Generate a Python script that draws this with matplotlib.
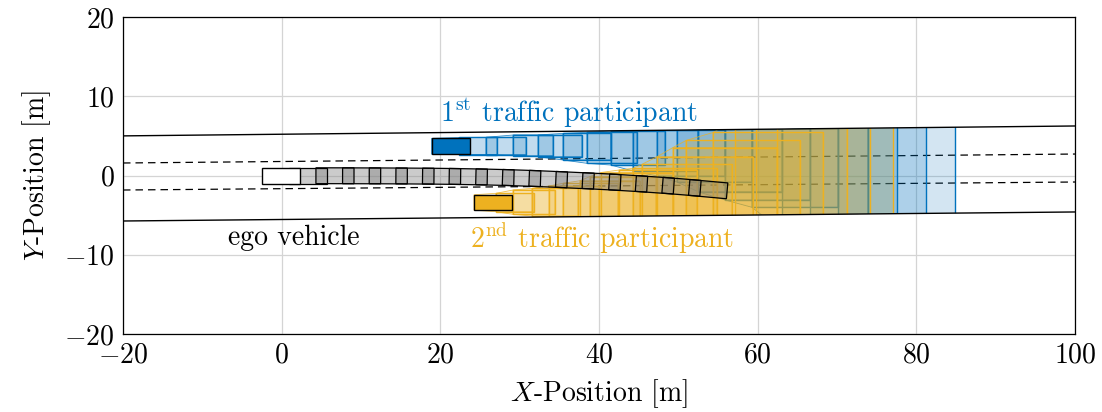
import numpy as np
import matplotlib
matplotlib.use("Agg")
import matplotlib.pyplot as plt
from matplotlib.patches import Polygon

plt.rcParams.update({
    "font.family": "serif",
    "font.serif": ["cmr10"],
    "mathtext.fontset": "cm",
    "axes.formatter.use_mathtext": True,
    "axes.unicode_minus": True,
    "font.size": 20,
})

BLUE = "#0072BD"
YELLOW = "#EDB120"

# ---------------- road geometry (lateral offsets at both ends) ----------------
road_x = [-20, 100]
road_edge_top = [5.0, 6.25]
lane_line_upper = [1.58, 2.71]
lane_line_lower = [-1.83, -0.82]
road_edge_bottom = [-5.74, -4.6]

# ---------------- vehicles ----------------
veh_len = 4.8
veh_wid = 2.0

# ego vehicle: current pose and predicted centre points
ego_x0, ego_y0 = -0.1, -0.03
ego_pred_x = [3.36, 6.72, 10.08, 13.44, 16.8, 20.16, 23.52, 26.88, 30.24,
              33.6, 36.96, 40.32, 43.68, 47.04, 50.4, 53.76]
ego_pred_y = [-0.03, -0.03, -0.04, -0.05, -0.07, -0.10, -0.15, -0.22, -0.32,
              -0.45, -0.60, -0.76, -0.95, -1.17, -1.42, -1.72]

# 1st traffic participant: current box and predicted occupancy boxes
tp1_now = (18.9, 23.73, 2.68, 4.69)  # x_min, x_max, y_min, y_max
tp1_xmin = [22.35, 25.75, 29.16, 32.31, 35.46, 38.48, 41.51, 44.28, 47.31,
            49.83, 52.48, 55.88, 59.28, 63.06, 66.59, 70.12, 73.90]
tp1_xmax = [27.14, 30.80, 34.20, 37.85, 41.51, 44.79, 48.32, 52.48, 55.88,
            59.28, 63.06, 66.59, 70.12, 73.90, 77.56, 81.21, 84.87]
tp1_ymin = [2.65, 2.65, 2.50, 2.37, 1.96, 1.54, 1.32, 0.57, -0.06,
            -0.82, -2.04, -3.09, -4.01, -7.0, -7.0, -7.0, -7.0]
tp1_ymax = [4.80, 4.82, 5.11, 5.11, 5.32, 5.45, 5.62, 5.74, 5.80,
            5.87, 5.93, 6.0, 6.0, 7.0, 7.0, 7.0, 7.0]

# 2nd traffic participant
tp2_now = (24.24, 29.07, -4.37, -2.43)
tp2_xmin = [27.01, 29.16, 31.55, 33.70, 35.46, 37.60, 38.86, 40.25, 42.52,
            44.28, 45.41, 47.31, 49.33, 50.97, 54.37, 57.14, 59.79, 62.43]
tp2_xmax = [31.80, 34.45, 37.35, 40.00, 42.39, 45.16, 47.18, 49.33, 52.35,
            54.87, 56.76, 59.40, 62.43, 65.34, 68.25, 71.27, 74.17, 77.07]
tp2_ymin = [-4.57, -4.90, -5.11, -7.0, -7.0, -7.0, -7.0, -7.0, -7.0,
            -7.0, -7.0, -7.0, -7.0, -7.0, -7.0, -7.0, -7.0, -7.0]
tp2_ymax = [-2.25, -1.83, -1.62, -1.32, -0.98, -0.66, -0.13, 0.38, 0.69,
            0.91, 1.41, 2.37, 3.53, 4.42, 5.43, 7.0, 7.0, 7.0]


def box_corners(x0, x1, y0, y1):
    return np.array([[x0, y0], [x1, y0], [x1, y1], [x0, y1]])


def oriented_box(cx, cy, yaw, length, width):
    c, s = np.cos(yaw), np.sin(yaw)
    local = np.array([[-length / 2, -width / 2], [length / 2, -width / 2],
                      [length / 2, width / 2], [-length / 2, width / 2]])
    rot = np.array([[c, -s], [s, c]])
    return local @ rot.T + np.array([cx, cy])


def convex_hull(points):
    pts = sorted(map(tuple, points))

    def cross(o, a, b):
        return (a[0] - o[0]) * (b[1] - o[1]) - (a[1] - o[1]) * (b[0] - o[0])

    lower, upper = [], []
    for p in pts:
        while len(lower) >= 2 and cross(lower[-2], lower[-1], p) <= 0:
            lower.pop()
        lower.append(p)
    for p in reversed(pts):
        while len(upper) >= 2 and cross(upper[-2], upper[-1], p) <= 0:
            upper.pop()
        upper.append(p)
    return np.array(lower[:-1] + upper[:-1])


fig = plt.figure(figsize=(11.02, 4.12), dpi=100)
ax = fig.add_axes([0.1116, 0.1893, 0.8639, 0.7694])
ax.set_xlim(-20, 100)
ax.set_ylim(-20, 20)
ax.set_xticks([-20, 0, 20, 40, 60, 80, 100])
ax.set_yticks([-20, -10, 0, 10, 20])
ax.grid(True, color="#d4d4d4", linewidth=0.9, zorder=0)
ax.set_axisbelow(True)
ax.tick_params(direction="in", length=0, pad=6)
for sp in ax.spines.values():
    sp.set_linewidth(0.9)

# drivable area used to clip the occupancy sets
road_poly = Polygon([[road_x[0], road_edge_top[0]], [road_x[1], road_edge_top[1]],
                     [road_x[1], road_edge_bottom[1]], [road_x[0], road_edge_bottom[0]]],
                    closed=True, facecolor="none", edgecolor="none",
                    transform=ax.transData)
ax.add_patch(road_poly)

# lane markings
ax.plot(road_x, lane_line_upper, color="black", lw=0.9, dashes=(6, 4), zorder=1)
ax.plot(road_x, lane_line_lower, color="black", lw=0.9, dashes=(6, 4), zorder=1)


def draw_participant(now, xmin, xmax, ymin, ymax, color, z, a_box, a_hull):
    boxes = [box_corners(*now)] + [box_corners(a, b, c, d)
                                   for a, b, c, d in zip(xmin, xmax, ymin, ymax)]
    for i in range(len(boxes) - 1):
        hull = convex_hull(np.vstack([boxes[i], boxes[i + 1]]))
        p = Polygon(hull, closed=True, facecolor=color, alpha=a_hull,
                    edgecolor="none", zorder=z)
        ax.add_patch(p)
        p.set_clip_path(road_poly)
        e = Polygon(hull, closed=True, facecolor="none", edgecolor=color,
                    lw=0.6, alpha=0.8, zorder=z)
        ax.add_patch(e)
        e.set_clip_path(road_poly)
    for b in boxes[1:]:
        p = Polygon(b, closed=True, facecolor=color, alpha=a_box,
                    edgecolor="none", zorder=z + 0.1)
        ax.add_patch(p)
        p.set_clip_path(road_poly)
        e = Polygon(b, closed=True, facecolor="none", edgecolor=color,
                    lw=1.0, zorder=z + 0.1)
        ax.add_patch(e)
        e.set_clip_path(road_poly)
    ax.add_patch(Polygon(boxes[0], closed=True, facecolor=color,
                         edgecolor="black", lw=1.0, zorder=z + 0.2))


draw_participant(tp1_now, tp1_xmin, tp1_xmax, tp1_ymin, tp1_ymax, BLUE, 2, 0.10, 0.08)
draw_participant(tp2_now, tp2_xmin, tp2_xmax, tp2_ymin, tp2_ymax, YELLOW, 3, 0.13, 0.08)

# ego prediction
px = np.array([ego_x0] + ego_pred_x)
py = np.array([ego_y0] + ego_pred_y)
yaw = np.arctan2(np.gradient(py), np.gradient(px))
for cx, cy, th in zip(px[1:], py[1:], yaw[1:]):
    corners = oriented_box(cx, cy, th, veh_len, veh_wid)
    ax.add_patch(Polygon(corners, closed=True, facecolor="#7f7f7f", alpha=0.4,
                         edgecolor="none", zorder=4))
    ax.add_patch(Polygon(corners, closed=True, facecolor="none", edgecolor="black",
                         lw=0.9, zorder=4.1))
ax.add_patch(Polygon(oriented_box(ego_x0, ego_y0, 0.0, veh_len, veh_wid), closed=True,
                     facecolor="white", edgecolor="black", lw=1.0, zorder=4.2))

# road boundaries
ax.plot(road_x, road_edge_top, color="black", lw=1.0, zorder=5)
ax.plot(road_x, road_edge_bottom, color="black", lw=1.0, zorder=5)

# annotations
ax.text(20.0, 7.9, r"1$^{\mathrm{st}}$ traffic participant", color=BLUE,
        va="center", ha="left", zorder=6)
ax.text(23.7, -7.9, r"2$^{\mathrm{nd}}$ traffic participant", color=YELLOW,
        va="center", ha="left", zorder=6)
ax.text(-6.75, -7.9, "ego vehicle", color="black", va="center", ha="left", zorder=6)

ax.set_xlabel(r"$X$-Position [m]", labelpad=6)
ax.set_ylabel(r"$Y$-Position [m]", labelpad=8)

fig.savefig("out.png", dpi=100)
